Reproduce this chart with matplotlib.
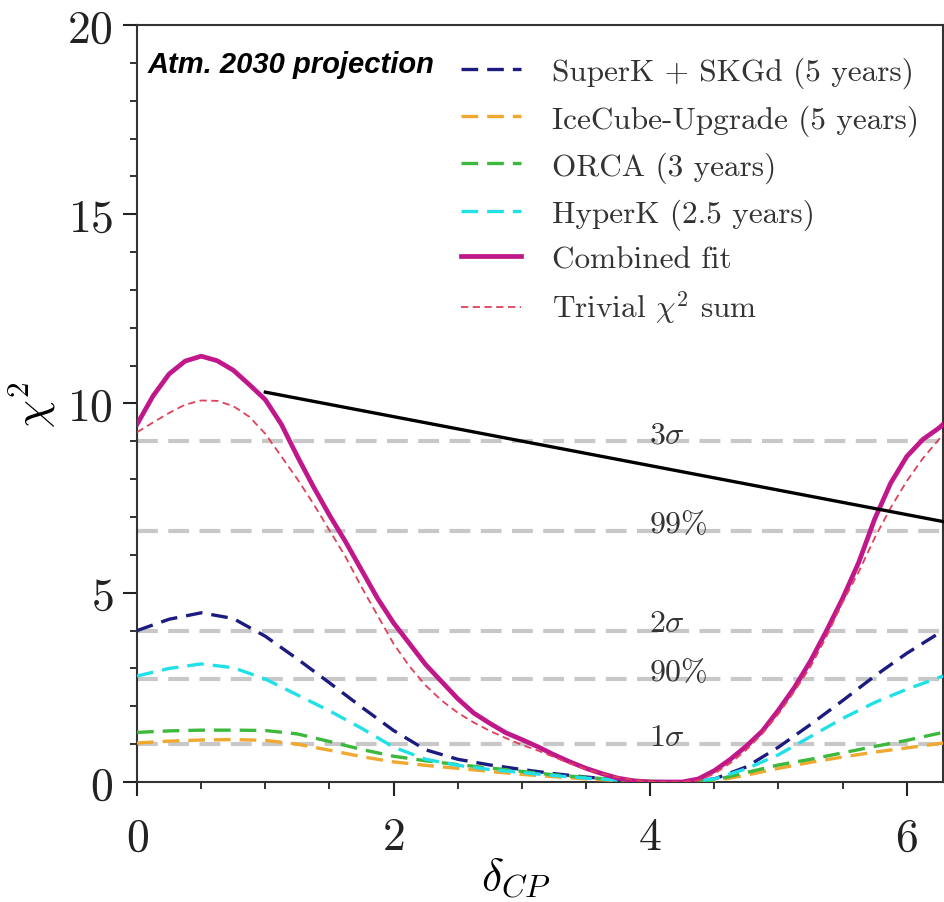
import numpy as np
import matplotlib
matplotlib.use("Agg")
import matplotlib.pyplot as plt

plt.rcParams['font.family'] = 'serif'
plt.rcParams['font.serif'] = ['cmr10', 'DejaVu Serif']
plt.rcParams['mathtext.fontset'] = 'cm'
plt.rcParams['axes.formatter.use_mathtext'] = True

# coarse grid for the single-experiment curves
delta_cp = [0.0, 0.25, 0.5, 0.75, 1.0, 1.25, 1.5, 1.75, 2.0, 2.25, 2.5, 2.75, 3.0,
            3.25, 3.5, 3.75, 4.0, 4.25, 4.5, 4.75, 5.0, 5.25, 5.5, 5.75, 6.0, 6.283]

superk = [4.0, 4.3, 4.47, 4.32, 3.85, 3.25, 2.62, 1.98, 1.36, 0.85, 0.6, 0.45, 0.33,
          0.22, 0.13, 0.06, 0.01, 0.0, 0.08, 0.4, 0.92, 1.52, 2.15, 2.8, 3.4, 4.0]
icecube = [1.03, 1.08, 1.11, 1.12, 1.1, 1.0, 0.84, 0.67, 0.53, 0.44, 0.36, 0.28, 0.2,
           0.14, 0.08, 0.04, 0.01, 0.0, 0.03, 0.18, 0.36, 0.52, 0.66, 0.79, 0.9, 1.03]
orca = [1.31, 1.35, 1.37, 1.37, 1.36, 1.27, 1.07, 0.86, 0.68, 0.56, 0.46, 0.37, 0.28,
        0.19, 0.12, 0.06, 0.02, 0.0, 0.05, 0.25, 0.45, 0.6, 0.77, 0.94, 1.1, 1.31]
hyperk = [2.8, 3.0, 3.12, 3.02, 2.72, 2.3, 1.88, 1.42, 0.92, 0.6, 0.44, 0.33, 0.25,
          0.17, 0.1, 0.05, 0.01, 0.0, 0.08, 0.35, 0.72, 1.2, 1.68, 2.1, 2.45, 2.8]

# fine grid for the combined / summed curves
delta_cp_fine = [0.0, 0.125, 0.25, 0.375, 0.5, 0.625, 0.75, 0.875, 1.0, 1.125, 1.25,
                 1.375, 1.5, 1.625, 1.75, 1.875, 2.0, 2.125, 2.25, 2.375, 2.5, 2.625,
                 2.75, 2.875, 3.0, 3.125, 3.25, 3.375, 3.5, 3.625, 3.75, 3.875, 4.0,
                 4.125, 4.25, 4.375, 4.5, 4.625, 4.75, 4.875, 5.0, 5.125, 5.25, 5.375,
                 5.5, 5.625, 5.75, 5.875, 6.0, 6.125, 6.25, 6.283]
combined = [9.45, 10.2, 10.78, 11.12, 11.25, 11.13, 10.88, 10.5, 10.1, 9.45, 8.6,
            7.8, 7.05, 6.35, 5.6, 4.85, 4.2, 3.65, 3.1, 2.65, 2.2, 1.82, 1.55, 1.3,
            1.12, 0.93, 0.72, 0.53, 0.36, 0.22, 0.1, 0.03, 0.0, 0.0, 0.0, 0.08, 0.3,
            0.6, 0.95, 1.35, 1.9, 2.5, 3.2, 4.0, 4.85, 5.8, 6.95, 7.9, 8.6, 9.05, 9.35,
            9.45]
trivial = [9.24, 9.5, 9.75, 9.97, 10.08, 10.07, 9.93, 9.65, 9.2, 8.6, 8.0, 7.35,
           6.65, 5.95, 5.15, 4.4, 3.65, 3.05, 2.55, 2.15, 1.83, 1.57, 1.35, 1.16,
           0.98, 0.83, 0.66, 0.49, 0.34, 0.22, 0.12, 0.05, 0.01, 0.0, 0.0, 0.04, 0.22,
           0.5, 0.85, 1.28, 1.8, 2.4, 3.05, 3.85, 4.75, 5.55, 6.45, 7.25, 7.95, 8.55,
           9.05, 9.2]

cl_levels = [9.0, 6.63, 4.0, 2.71, 1.0]
cl_labels = [r'$3\sigma$', r'$99\%$', r'$2\sigma$', r'$90\%$', r'$1\sigma$']

series_labels = ['SuperK + SKGd (5 years)', 'IceCube-Upgrade (5 years)',
                 'ORCA (3 years)', 'HyperK (2.5 years)', 'Combined fit',
                 r'Trivial $\chi^2$ sum']

fig = plt.figure(figsize=(9.45, 9.03), dpi=100)
ax = fig.add_axes([0.145, 0.1329, 0.853, 0.8383])

for lev, lab in zip(cl_levels, cl_labels):
    ax.axhline(lev, color='#c8c8c8', lw=3.0, dashes=(5, 2.5), zorder=1)
    ax.text(3.99, lev - 0.02, lab, fontsize=23, color='#333333', va='baseline',
            ha='left', zorder=2)

dash_style = dict(lw=2.4, dashes=(5, 2.7), zorder=3)
ax.plot(delta_cp, superk, color='#1c1c80', label=series_labels[0], **dash_style)
ax.plot(delta_cp, icecube, color='#f0a830', label=series_labels[1], **dash_style)
ax.plot(delta_cp, orca, color='#3cb83c', label=series_labels[2], **dash_style)
ax.plot(delta_cp, hyperk, color='#22e0e8', label=series_labels[3], **dash_style)
ax.plot(delta_cp_fine, combined, color='#c0188a', lw=3.4, label=series_labels[4], zorder=4)
ax.plot(delta_cp_fine, trivial, color='#e0405a', lw=1.3, dashes=(4, 2.5),
        label=series_labels[5], zorder=4)

ax.plot([1.0, 6.30], [10.3, 6.87], color='black', lw=2.4, clip_on=False, zorder=5)

ax.set_xlim(0, 2 * np.pi)
ax.set_ylim(0, 20)
ax.set_xticks([0, 2, 4, 6])
ax.set_yticks([0, 5, 10, 15, 20])
ax.set_xticks(np.arange(0, 6.3, 0.5), minor=True)
ax.set_yticks(np.arange(0, 20.1, 1), minor=True)
ax.tick_params(axis='x', which='major', pad=15)
ax.tick_params(axis='y', which='major', pad=7)
ax.tick_params(axis='both', which='major', direction='out', length=10, width=1.5,
               labelsize=33, colors='#222222')
ax.tick_params(axis='both', which='minor', direction='out', length=5, width=1.3,
               colors='#222222')
for sp in ax.spines.values():
    sp.set_linewidth(1.5)
    sp.set_color('#333333')

ax.set_xlabel(r'$\delta_{CP}$', fontsize=33)
ax.xaxis.set_label_coords(0.47, -0.098)
ax.set_ylabel(r'$\chi^2$', fontsize=32)
ax.yaxis.set_label_coords(-0.098, 0.5)

ax.text(0.013, 0.948, 'Atm. 2030 projection', transform=ax.transAxes,
        family='Liberation Sans', fontweight='bold', fontstyle='italic',
        fontsize=21, va='center', ha='left')

leg = ax.legend(loc='upper right', bbox_to_anchor=(1.005, 0.995), fontsize=22.5,
                frameon=False, handlelength=1.9, handletextpad=1.0, labelspacing=0.5)
for t in leg.get_texts():
    t.set_color('#333333')

fig.savefig('out.png', dpi=100)
